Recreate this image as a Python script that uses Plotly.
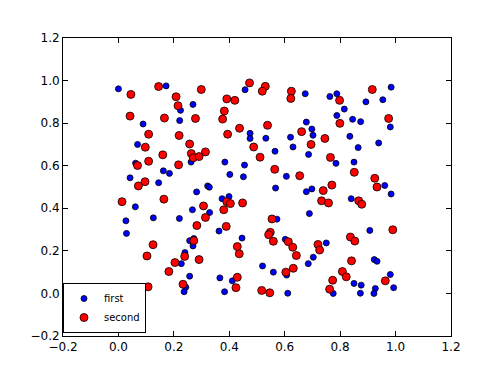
import plotly.graph_objects as go

first_x = [0.00, 0.172, 0.224, 0.269, 0.221, 0.089, 0.069, 0.262, 0.062, 0.162,
           0.184, 0.042, 0.145, 0.457, 0.475, 0.475, 0.532, 0.621, 0.565, 0.630,
           0.384, 0.455, 0.402, 0.451, 0.606, 0.322, 0.328, 0.567, 0.674, 0.763,
           0.788, 0.984, 0.954, 0.893, 0.815, 0.788, 0.678, 0.845, 0.874, 0.981,
           0.698, 0.702, 0.835, 0.939, 0.865, 0.686, 0.785, 0.850, 0.961, 0.282,
           0.061, 0.267, 0.126, 0.220, 0.027, 0.029, 0.272, 0.257, 0.269, 0.240,
           0.227, 0.257, 0.243, 0.237, 0.374, 0.399, 0.329, 0.572, 0.363, 0.446,
           0.602, 0.520, 0.559, 0.607, 0.366, 0.411, 0.383, 0.611, 0.678, 0.698,
           0.984, 0.840, 0.689, 0.907, 0.750, 0.703, 0.685, 0.923, 0.933, 0.981,
           0.850, 0.876, 0.927, 0.993, 0.775, 0.873, 0.922]
first_y = [0.961, 0.975, 0.860, 0.888, 0.812, 0.796, 0.700, 0.617, 0.612, 0.576,
           0.564, 0.543, 0.520, 0.957, 0.752, 0.728, 0.729, 0.734, 0.668, 0.688,
           0.617, 0.603, 0.559, 0.548, 0.550, 0.505, 0.499, 0.495, 0.938, 0.925,
           0.938, 0.969, 0.910, 0.900, 0.866, 0.836, 0.805, 0.818, 0.807, 0.782,
           0.772, 0.743, 0.738, 0.707, 0.685, 0.653, 0.611, 0.617, 0.507, 0.477,
           0.407, 0.393, 0.355, 0.352, 0.341, 0.282, 0.258, 0.248, 0.223, 0.192,
           0.140, 0.081, 0.029, 0.008, 0.445, 0.455, 0.380, 0.349, 0.293, 0.260,
           0.254, 0.129, 0.100, 0.086, 0.073, 0.059, 0.008, 0.001, 0.478, 0.491,
           0.467, 0.445, 0.375, 0.296, 0.237, 0.170, 0.140, 0.159, 0.151, 0.089,
           0.047, 0.039, 0.023, 0.027, 0.000, 0.001, 0.000]

second_x = [0.045, 0.145, 0.299, 0.208, 0.215, 0.042, 0.166, 0.278, 0.109, 0.219,
            0.257, 0.097, 0.314, 0.263, 0.270, 0.291, 0.160, 0.109, 0.069, 0.217,
            0.096, 0.072, 0.473, 0.530, 0.519, 0.624, 0.622, 0.391, 0.420, 0.382,
            0.376, 0.437, 0.538, 0.394, 0.661, 0.488, 0.511, 0.564, 0.654, 0.798,
            0.916, 0.975, 0.799, 0.745, 0.695, 0.765, 0.851, 0.925, 0.770, 0.933,
            0.013, 0.164, 0.307, 0.314, 0.283, 0.125, 0.272, 0.239, 0.103, 0.291,
            0.204, 0.182, 0.233, 0.107, 0.391, 0.404, 0.448, 0.380, 0.554, 0.389,
            0.548, 0.542, 0.559, 0.613, 0.429, 0.629, 0.436, 0.642, 0.604, 0.631,
            0.429, 0.424, 0.517, 0.546, 0.739, 0.733, 0.758, 0.867, 0.878, 0.990,
            0.837, 0.853, 0.720, 0.726, 0.841, 0.808, 0.822, 0.773, 0.963, 0.762]
second_y = [0.935, 0.972, 0.958, 0.924, 0.882, 0.833, 0.824, 0.822, 0.748, 0.742,
            0.702, 0.687, 0.665, 0.657, 0.637, 0.643, 0.651, 0.621, 0.601, 0.604,
            0.525, 0.505, 0.989, 0.973, 0.950, 0.950, 0.916, 0.914, 0.907, 0.857,
            0.819, 0.776, 0.790, 0.748, 0.760, 0.688, 0.640, 0.583, 0.553, 0.907,
            0.958, 0.822, 0.799, 0.728, 0.700, 0.639, 0.569, 0.541, 0.509, 0.500,
            0.431, 0.443, 0.411, 0.357, 0.319, 0.229, 0.248, 0.174, 0.176, 0.159,
            0.145, 0.103, 0.043, 0.031, 0.431, 0.422, 0.425, 0.393, 0.350, 0.315,
            0.287, 0.276, 0.245, 0.243, 0.220, 0.217, 0.186, 0.178, 0.100, 0.118,
            0.076, 0.027, 0.014, 0.003, 0.483, 0.435, 0.425, 0.435, 0.419, 0.299,
            0.265, 0.246, 0.230, 0.204, 0.153, 0.103, 0.078, 0.062, 0.059, 0.020]

tick_vals = [-0.2, 0.0, 0.2, 0.4, 0.6, 0.8, 1.0, 1.2]
tick_text = ["\u22120.2", "0.0", "0.2", "0.4", "0.6", "0.8", "1.0", "1.2"]

fig = go.Figure()
fig.add_trace(go.Scatter(
    x=first_x, y=first_y, mode="markers", name="first",
    marker=dict(color="#0000ff", size=6, line=dict(color="black", width=0.8)),
))
fig.add_trace(go.Scatter(
    x=second_x, y=second_y, mode="markers", name="second",
    marker=dict(color="#ff0000", size=8, line=dict(color="black", width=0.8)),
))

axis_common = dict(
    tickmode="array", tickvals=tick_vals, ticktext=tick_text,
    range=[-0.2, 1.2], showgrid=False, zeroline=False,
    showline=True, linecolor="black", linewidth=1, mirror="allticks",
    ticks="inside", ticklen=5, tickcolor="black", tickwidth=1,
    tickfont=dict(family="DejaVu Sans", size=12, color="black"),
)
fig.update_xaxes(**axis_common)
fig.update_yaxes(**axis_common)

fig.update_layout(
    width=500, height=375,
    margin=dict(l=63, r=49, t=38, b=39),
    paper_bgcolor="white", plot_bgcolor="white",
    showlegend=True,
    legend=dict(
        x=0.0, y=0.01, xanchor="left", yanchor="bottom",
        bgcolor="white", bordercolor="black", borderwidth=1,
        font=dict(family="DejaVu Sans", size=10, color="black"),
        itemwidth=30, tracegroupgap=0, entrywidth=40,
    ),
)

fig.write_html("out.html")
